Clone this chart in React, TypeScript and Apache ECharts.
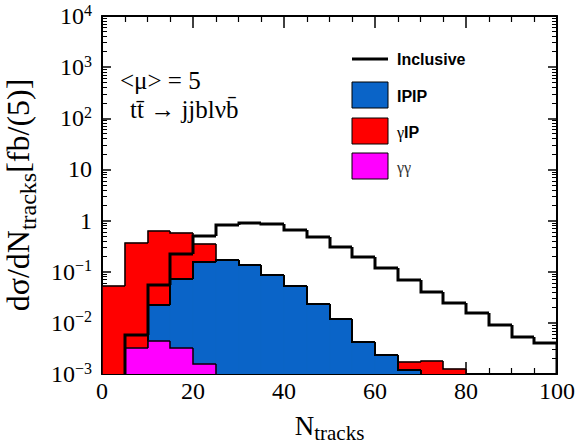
import React, { useEffect, useRef } from "react";
import * as echarts from "echarts";

// Histogram bin edges (N_tracks), bin width 5
const binEdges = [0, 5, 10, 15, 20, 25, 30, 35, 40, 45, 50, 55, 60, 65, 70, 75, 80, 85, 90, 95, 100];
// dσ/dN_tracks [fb/(5)] per bin
const inclusive = [0, 0.0058, 0.056, 0.226, 0.5, 0.805, 0.9, 0.84, 0.66, 0.47, 0.31, 0.197, 0.116, 0.069, 0.041, 0.0245, 0.0156, 0.0091, 0.0054, 0.004];
const ipip = [0, 0, 0.0224, 0.072, 0.156, 0.17, 0.136, 0.0865, 0.0535, 0.0234, 0.0119, 0.0043, 0.00236, 0.0012, 0, 0, 0, 0, 0, 0];
const gammaIP = [0.0527, 0.358, 0.615, 0.562, 0.35, 0, 0, 0, 0, 0, 0, 0, 0, 0.00172, 0.0018, 0.00125, 0, 0, 0, 0];
const gammaGamma = [0, 0.00323, 0.00443, 0.00323, 0.00157, 0, 0, 0, 0, 0, 0, 0, 0, 0, 0, 0, 0, 0, 0, 0];

const xTickLabels = ["0", "20", "40", "60", "80", "100"];
const legendLabels = ["Inclusive", "IPIP", "γIP", "γγ"];
const annotation1 = "<μ> = 5";
const annotation2 = "tt\u0304 → jjblνb\u0304";

const SERIF = "'Liberation Serif', 'Times New Roman', serif";
const SANS = "'Liberation Sans', Arial, Helvetica, sans-serif";
const Y_MIN = 1e-3;
const Y_MAX = 1e4;
const BLUE = "#0a64c8";
const RED = "#ff0000";
const MAGENTA = "#ff00ff";

function histData(values: number[]) {
  return values.map((v, i) => [binEdges[i], binEdges[i + 1], v]);
}

const empty = { type: "group", children: [] };

function fillSeries(values: number[], color: string) {
  return {
    type: "custom",
    encode: { x: [0, 1], y: 2 },
    data: histData(values),
    clip: true,
    silent: true,
    renderItem: (params: any, api: any) => {
      const v = api.value(2);
      if (!(v > Y_MIN)) return empty;
      const tl = api.coord([api.value(0), Math.min(v, Y_MAX)]);
      const br = api.coord([api.value(1), Y_MIN]);
      const x = Math.round(tl[0]);
      const y = Math.round(tl[1]);
      return {
        type: "rect",
        shape: { x, y, width: Math.round(br[0]) - x, height: Math.round(br[1]) - y },
        style: { fill: color, stroke: color, lineWidth: 0.6 },
      };
    },
  };
}

function outlineSeries(values: number[], color: string, width: number) {
  const clamp = (u: number) => Math.min(Math.max(u, Y_MIN), Y_MAX);
  return {
    type: "custom",
    encode: { x: [0, 1], y: 2 },
    data: histData(values),
    clip: true,
    silent: true,
    renderItem: (params: any, api: any) => {
      const i = params.dataIndex;
      const x0 = api.value(0);
      const x1 = api.value(1);
      const v = api.value(2);
      const prev = i > 0 ? values[i - 1] : 0;
      if (!(v > Y_MIN) && !(prev > Y_MIN)) return empty;
      const pt = (x: number, y: number) => {
        const p = api.coord([x, y]);
        return [Math.round(p[0]), Math.round(p[1])];
      };
      let pts: number[][];
      if (!(v > Y_MIN)) {
        pts = [pt(x0, clamp(prev)), pt(x0, Y_MIN)];
      } else {
        pts = [pt(x0, clamp(prev)), pt(x0, clamp(v)), pt(x1, clamp(v))];
        if (i === values.length - 1) pts.push(pt(x1, Y_MIN));
      }
      return {
        type: "polyline",
        shape: { points: pts },
        style: { stroke: color, lineWidth: width, fill: "none", lineJoin: "miter" },
      };
    },
  };
}

function yLabel(v: number) {
  const e = Math.round(Math.log10(v));
  if (e === 0) return "1";
  if (e === 1) return "10";
  return "10{sup|" + (e < 0 ? "\u2212" + -e : String(e)) + "}";
}

export default function App() {
  const ref = useRef<HTMLDivElement>(null);
  useEffect(() => {
    if (!ref.current) return;
    const chart = echarts.init(ref.current, null, { renderer: "svg" });
    const axisLine = { show: true, onZero: false, lineStyle: { color: "#000", width: 2 } };
    const xCommon = {
      type: "value",
      min: 0,
      max: 100,
      interval: 20,
      axisLine,
      axisTick: { show: true, inside: true, length: 12, lineStyle: { color: "#000", width: 1.5 } },
      minorTick: { show: true, splitNumber: 4, length: 6, lineStyle: { color: "#000", width: 1.2 } },
      splitLine: { show: false },
      minorSplitLine: { show: false },
    };
    const yCommon = {
      type: "log",
      logBase: 10,
      min: Y_MIN,
      max: Y_MAX,
      splitNumber: 7,
      axisLine,
      axisTick: { show: true, inside: true, length: 9, lineStyle: { color: "#000", width: 1.5 } },
      minorTick: { show: true, splitNumber: 9, length: 5, lineStyle: { color: "#000", width: 1 } },
      splitLine: { show: false },
      minorSplitLine: { show: false },
    };
    const legendX = 352;
    const legendTextX = 397;
    const graphic: any[] = [
      {
        type: "text",
        left: 120,
        top: 68,
        style: { text: annotation1, font: `25px ${SERIF}`, fill: "#000" },
      },
      {
        type: "text",
        left: 130,
        top: 97,
        style: { text: annotation2, font: `25px ${SERIF}`, fill: "#000" },
      },
      {
        type: "line",
        shape: { x1: legendX, y1: 59, x2: legendX + 36, y2: 59 },
        style: { stroke: "#000", lineWidth: 3 },
      },
      {
        type: "text",
        x: legendTextX,
        y: 59,
        style: { text: legendLabels[0], font: `bold 16px ${SANS}`, fill: "#000", verticalAlign: "middle" },
      },
      {
        type: "rect",
        shape: { x: legendX, y: 82, width: 36, height: 26 },
        style: { fill: BLUE, stroke: "#000", lineWidth: 1 },
      },
      {
        type: "text",
        x: legendTextX,
        y: 96,
        style: { text: legendLabels[1], font: `bold 16px ${SANS}`, fill: "#000", verticalAlign: "middle" },
      },
      {
        type: "rect",
        shape: { x: legendX, y: 118, width: 36, height: 26 },
        style: { fill: RED, stroke: "#000", lineWidth: 1 },
      },
      {
        type: "text",
        x: legendTextX,
        y: 132,
        style: {
          text: "{g|γ}{b|IP}",
          verticalAlign: "middle",
          rich: {
            g: { font: `16px ${SERIF}`, fill: "#000" },
            b: { font: `bold 16px ${SANS}`, fill: "#000" },
          },
        },
      },
      {
        type: "rect",
        shape: { x: legendX, y: 153, width: 36, height: 26 },
        style: { fill: MAGENTA, stroke: "#000", lineWidth: 1 },
      },
      {
        type: "text",
        x: legendTextX,
        y: 167,
        style: { text: legendLabels[3], font: `16px ${SERIF}`, fill: "#333", verticalAlign: "middle" },
      },
    ];

    chart.setOption({
      animation: false,
      backgroundColor: "#fff",
      grid: { left: 102, top: 16, width: 455, height: 358, containLabel: false, outerBoundsMode: "none" },
      xAxis: [
        {
          ...xCommon,
          position: "bottom",
          axisLabel: {
            show: true,
            margin: 5,
            fontFamily: SERIF,
            fontSize: 24,
            color: "#000",
            showMinLabel: true,
            showMaxLabel: true,
            formatter: (v: number) => xTickLabels[Math.round(v / 20)] ?? String(v),
          },
          name: "N{sub|tracks}",
          nameLocation: "middle",
          nameGap: 18,
          nameTextStyle: {
            fontFamily: SERIF,
            fontSize: 27,
            lineHeight: 36,
            color: "#000",
            rich: { sub: { fontFamily: SERIF, fontSize: 21, lineHeight: 21, verticalAlign: "bottom", color: "#000" } },
          },
        },
        { ...xCommon, position: "top", axisLabel: { show: false } },
      ],
      yAxis: [
        {
          ...yCommon,
          position: "left",
          axisLabel: {
            show: true,
            margin: 10,
            fontFamily: SERIF,
            fontSize: 24,
            lineHeight: 28,
            color: "#000",
            showMinLabel: true,
            showMaxLabel: true,
            formatter: yLabel,
            rich: { sup: { fontFamily: SERIF, fontSize: 16, lineHeight: 16, verticalAlign: "top", color: "#000" } },
          },
          name: "dσ/dN{sub|tracks}[fb/(5)]",
          nameLocation: "middle",
          nameRotate: 90,
          nameGap: 46,
          nameTextStyle: {
            fontFamily: SERIF,
            fontSize: 32,
            lineHeight: 44,
            color: "#000",
            rich: { sub: { fontFamily: SERIF, fontSize: 24, lineHeight: 24, verticalAlign: "bottom", color: "#000" } },
          },
        },
        { ...yCommon, position: "right", axisLabel: { show: false } },
      ],
      series: [
        fillSeries(gammaIP, RED),
        outlineSeries(gammaIP, "#000", 1.5),
        fillSeries(ipip, BLUE),
        outlineSeries(ipip, "#000", 2),
        fillSeries(gammaGamma, MAGENTA),
        outlineSeries(gammaGamma, "#000", 1.5),
        outlineSeries(inclusive, "#000", 3),
      ],
      graphic,
    });
    return () => chart.dispose();
  }, []);
  return (
    <div
      ref={ref}
      style={{ position: "absolute", left: 0, top: 0, width: 576, height: 445, background: "#fff" }}
    />
  );
}
